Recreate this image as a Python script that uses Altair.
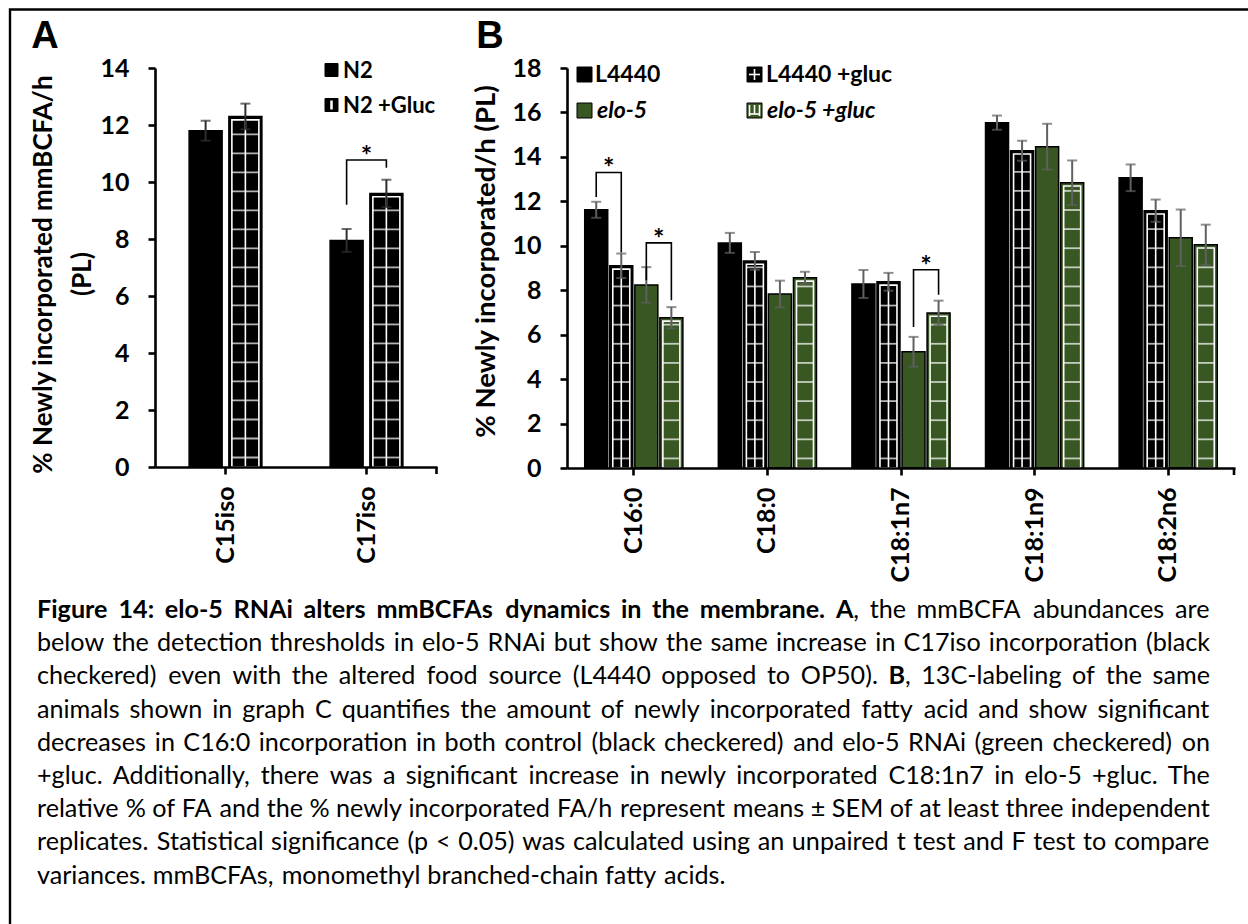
import os
import glob
import struct
import altair as alt
import pandas as pd

W, H = 1248, 924
GREEN = "#385723"
FONT = "Lato"

# ---------------- Panel A data ----------------
cats_a = ["C15iso", "C17iso"]
series_a = ["N2", "N2 +Gluc"]
n2_vals = [11.8, 7.95]
n2_gluc_vals = [12.3, 9.6]
n2_err = [0.35, 0.40]
n2_gluc_err = [0.45, 0.48]
# bracket: category, left series, right series, left-leg bottom, top, right-leg bottom
brackets_a = [("C17iso", "N2", "N2 +Gluc", 9.2, 10.77, 10.5)]

# ---------------- Panel B data ----------------
cats_b = ["C16:0", "C18:0", "C18:1n7", "C18:1n9", "C18:2n6"]
series_b = ["L4440", "L4440 +gluc", "elo-5", "elo-5 +gluc"]
l4440_vals = [11.62, 10.13, 8.28, 15.54, 13.06]
l4440_gluc_vals = [9.10, 9.32, 8.38, 14.28, 11.58]
elo5_vals = [8.24, 7.83, 5.23, 14.46, 10.36]
elo5_gluc_vals = [6.76, 8.56, 6.98, 12.84, 10.05]
l4440_err = [0.36, 0.45, 0.63, 0.32, 0.60]
l4440_gluc_err = [0.55, 0.40, 0.40, 0.45, 0.50]
elo5_err = [0.80, 0.60, 0.67, 1.03, 1.27]
elo5_gluc_err = [0.48, 0.27, 0.55, 1.00, 0.90]
brackets_b = [
    ("C16:0", "L4440", "L4440 +gluc", 12.2, 13.3, 9.7),
    ("C16:0", "elo-5", "elo-5 +gluc", 8.45, 10.13, 7.55),
    ("C18:1n7", "elo-5", "elo-5 +gluc", 6.35, 8.92, 7.8),
]

# caption (** marks bold)
caption_lines = [
    "**Figure 14: elo-5 RNAi alters mmBCFAs dynamics in the membrane. A**, the mmBCFA abundances are",
    "below the detection thresholds in elo-5 RNAi but show the same increase in C17iso incorporation (black",
    "checkered) even with the altered food source (L4440 opposed to OP50). **B**, 13C-labeling of the same",
    "animals shown in graph C quantifies the amount of newly incorporated fatty acid and show significant",
    "decreases in C16:0 incorporation in both control (black checkered) and elo-5 RNAi (green checkered) on",
    "+gluc. Additionally, there was a significant increase in newly incorporated C18:1n7 in elo-5 +gluc. The",
    "relative % of FA and the % newly incorporated FA/h represent means \u00b1 SEM of at least three independent",
    "replicates. Statistical significance (p < 0.05) was calculated using an unpaired t test and F test to compare",
    "variances. mmBCFAs, monomethyl branched-chain fatty acids.",
]


# ---------------- font metrics (for justified caption) ----------------
def find_font(name):
    roots = ["/usr/share/fonts", "/usr/local/share/fonts",
             os.path.expanduser("~/.fonts"), os.path.expanduser("~/.local/share/fonts")]
    for r in roots:
        hits = glob.glob(os.path.join(r, "**", name), recursive=True)
        if hits:
            return hits[0]
    return None


def load_advances(path):
    data = open(path, "rb").read()
    ntab = struct.unpack(">H", data[4:6])[0]
    tabs = {}
    for i in range(ntab):
        tag, _cs, off, ln = struct.unpack(">4sIII", data[12 + 16 * i: 28 + 16 * i])
        tabs[tag.decode("latin1")] = off
    upem = struct.unpack(">H", data[tabs["head"] + 18: tabs["head"] + 20])[0]
    nhm = struct.unpack(">H", data[tabs["hhea"] + 34: tabs["hhea"] + 36])[0]
    hm = tabs["hmtx"]
    adv = [struct.unpack(">H", data[hm + 4 * i: hm + 4 * i + 2])[0] for i in range(nhm)]
    cm = tabs["cmap"]
    nsub = struct.unpack(">H", data[cm + 2: cm + 4])[0]
    cmap = {}
    for i in range(nsub):
        pid, eid, off = struct.unpack(">HHI", data[cm + 4 + 8 * i: cm + 12 + 8 * i])
        st = cm + off
        fmt = struct.unpack(">H", data[st: st + 2])[0]
        if fmt == 4 and pid in (0, 3):
            segx2 = struct.unpack(">H", data[st + 6: st + 8])[0]
            n = segx2 // 2
            ends = struct.unpack(">%dH" % n, data[st + 14: st + 14 + segx2])
            starts = struct.unpack(">%dH" % n, data[st + 16 + segx2: st + 16 + 2 * segx2])
            deltas = struct.unpack(">%dh" % n, data[st + 16 + 2 * segx2: st + 16 + 3 * segx2])
            ro = st + 16 + 3 * segx2
            roffs = struct.unpack(">%dH" % n, data[ro: ro + segx2])
            for s in range(n):
                for c in range(starts[s], min(ends[s], 0x2FFF) + 1):
                    if roffs[s] == 0:
                        g = (c + deltas[s]) & 0xFFFF
                    else:
                        a = ro + 2 * s + roffs[s] + 2 * (c - starts[s])
                        g = struct.unpack(">H", data[a: a + 2])[0]
                        if g:
                            g = (g + deltas[s]) & 0xFFFF
                    cmap[c] = g
            break
    return lambda ch: adv[min(cmap.get(ord(ch), 0), nhm - 1)] / upem


def make_measure():
    fr, fb = find_font("Lato-Regular.ttf"), find_font("Lato-Bold.ttf")
    try:
        wr, wb = load_advances(fr), load_advances(fb)
    except Exception:
        wr = lambda ch: 0.25 if ch == " " else 0.5
        wb = lambda ch: 0.25 if ch == " " else 0.53
    return lambda s, bold: sum((wb if bold else wr)(c) for c in s)


em_width = make_measure()


def parse_words(line):
    words, bold = [], False
    for w in line.split(" "):
        parts = []
        for j, p in enumerate(w.split("**")):
            if j > 0:
                bold = not bold
            if p:
                parts.append((p, bold))
        words.append(parts)
    return words


LEFT, RIGHT = 37, 1210
Y0, DY = 610, 33.2
parsed = [parse_words(l) for l in caption_lines]


def natural_em(words):
    return sum(em_width(p, b) for parts in words for p, b in parts) + \
        (len(words) - 1) * em_width(" ", False)


CS = min(25.5, min((RIGHT - LEFT) / natural_em(w) for w in parsed[:-1]))

cap_rows = []
for li, words in enumerate(parsed):
    y = Y0 + li * DY
    wid = [sum(em_width(p, b) * CS for p, b in parts) for parts in words]
    sp = em_width(" ", False) * CS
    n = len(words) - 1
    justify = li < len(parsed) - 1
    gap = sp + ((RIGHT - LEFT - sum(wid) - n * sp) / n if justify else 0)
    x = LEFT
    for parts, w in zip(words, wid):
        px = x
        for p, b in parts:
            cap_rows.append({"x": px, "y": y, "t": p, "bold": b})
            px += em_width(p, b) * CS
        x += w + gap
cap_df = pd.DataFrame(cap_rows)


def build_df(cats, series, vals, errs, kinds):
    rows = []
    for s, vl, el, kind in zip(series, vals, errs, kinds):
        for c, v, e in zip(cats, vl, el):
            rows.append({"cat": c, "series": s, "v": v, "e": e,
                         "lo": v - e, "hi": v + e, "z": 0.0, "kind": kind})
    return pd.DataFrame(rows)


def panel(df, cats, series, colors, ymax, yvals, xrange, yrange, pin, pout,
          bar_w, inner_w, lvl_step, inset, brackets, star_dx, err_color,
          ytitle, title_size, title_x, title_y, yaxis_x, xaxis_y):
    def xscale():
        return alt.Scale(type="band", domain=cats, range=xrange,
                         paddingInner=pin, paddingOuter=pout)

    def yscale():
        return alt.Scale(domain=[0, ymax], range=yrange, nice=False, zero=True)

    def XO():
        return alt.XOffset("series:N", sort=series,
                           scale=alt.Scale(type="band", domain=series,
                                           paddingInner=0, paddingOuter=0))

    xaxis = alt.Axis(orient="bottom", offset=-(H - xaxis_y), title=None, labelAngle=-90,
                     labelFont=FONT, labelFontWeight=700, labelFontSize=25,
                     labelColor="black", labelPadding=12, domainColor="black",
                     domainWidth=2.6, tickColor="black", tickWidth=2.6, tickSize=7,
                     grid=False, zindex=2)
    yaxis = alt.Axis(orient="left", offset=-yaxis_x, values=yvals, grid=False,
                     labelFont=FONT, labelFontWeight=700, labelFontSize=25,
                     labelColor="black", labelPadding=19, domainColor="black",
                     domainWidth=2.6, tickColor="black", tickWidth=2.6, tickSize=7,
                     title=ytitle, titleFont=FONT, titleFontWeight=700,
                     titleFontSize=title_size, titleColor="black", titleX=title_x,
                     titleY=title_y, titleAlign="center", titleBaseline="middle",
                     titleAngle=270, zindex=2)

    def X(axis=None):
        return alt.X("cat:N", sort=cats, scale=xscale(), axis=axis)

    def Y(field, axis=None):
        return alt.Y(field, scale=yscale(), axis=axis)

    base = alt.Chart(df)
    out = []
    out.append(base.mark_bar(size=bar_w, stroke="black", strokeWidth=1.5).encode(
        x=X(), xOffset=XO(), y=Y("v:Q"),
        fill=alt.Fill("series:N", scale=alt.Scale(domain=series, range=colors), legend=None),
    ))

    hat = df[df["kind"] != "solid"].copy()
    hat["vin"] = hat["v"] - inset
    out.append(alt.Chart(hat).mark_bar(size=inner_w, fill="white", fillOpacity=0,
                                       stroke="white", strokeWidth=1.6).encode(
        x=X(), xOffset=XO(), y=Y("vin:Q"), y2="z:Q"))
    out.append(alt.Chart(hat[hat["kind"] == "grid"]).mark_rule(
        color="white", strokeWidth=1.6).encode(x=X(), xOffset=XO(), y=Y("vin:Q"), y2="z:Q"))

    lv_rows = []
    for _, r in hat.iterrows():
        k = 0
        while (k + 0.5) * lvl_step < r["v"] - 1.6 * inset:
            lv_rows.append({"cat": r["cat"], "series": r["series"], "lvl": (k + 0.5) * lvl_step})
            k += 1
    out.append(alt.Chart(pd.DataFrame(lv_rows)).mark_tick(
        orient="horizontal", size=inner_w, thickness=1.8, color="white").encode(
        x=X(), xOffset=XO(), y=Y("lvl:Q")))

    out.append(base.mark_rule(color=err_color, strokeWidth=2).encode(
        x=X(), xOffset=XO(), y=Y("lo:Q"), y2="hi:Q"))
    for fld in ["lo:Q", "hi:Q"]:
        out.append(base.mark_tick(orient="horizontal", size=10, thickness=2,
                                  color=err_color).encode(x=X(), xOffset=XO(), y=Y(fld)))

    br_rows, st_rows = [], []
    for i, (c, s1, s2, b1, top, b2) in enumerate(brackets):
        for o, (s, yv) in enumerate([(s1, b1), (s1, top), (s2, top), (s2, b2)]):
            br_rows.append({"b": i, "o": o, "cat": c, "series": s, "y": yv})
        st_rows.append({"cat": c, "series": s1, "y": top})
    out.append(alt.Chart(pd.DataFrame(br_rows)).mark_line(color="black", strokeWidth=1.6).encode(
        x=X(), xOffset=XO(), y=Y("y:Q"), detail="b:N", order="o:Q"))
    out.append(alt.Chart(pd.DataFrame(st_rows)).mark_text(
        text="*", dx=star_dx, dy=5, baseline="alphabetic", font=FONT, fontSize=27,
        fontWeight="bold", color="black").encode(x=X(), xOffset=XO(), y=Y("y:Q")))

    # axes carried by an invisible layer
    out.append(base.mark_bar(opacity=0).encode(x=X(xaxis), y=Y("z:Q", yaxis)))
    return out


df_a = build_df(cats_a, series_a, [n2_vals, n2_gluc_vals], [n2_err, n2_gluc_err],
                ["solid", "grid"])
df_b = build_df(cats_b, series_b,
                [l4440_vals, l4440_gluc_vals, elo5_vals, elo5_gluc_vals],
                [l4440_err, l4440_gluc_err, elo5_err, elo5_gluc_err],
                ["solid", "grid", "solid", "stripe"])

layers_a = panel(df_a, cats_a, series_a, ["black", "black"], 14, list(range(0, 15, 2)),
                 [155, 437], [467, 68], 0.436, 0.218, 33, 27, 0.667, 0.12,
                 brackets_a, 19.75, "#2e2e2e",
                 "% Newly incorporated mmBCFA/h", 26, -112, 274, 155, 467)
layers_b = panel(df_b, cats_b, series_b, ["black", "black", GREEN, GREEN], 18,
                 list(range(0, 19, 2)), [567, 1235], [468, 68], 0.25, 0.125, 23, 17,
                 0.86, 0.15, brackets_b, 12.5, "#606060",
                 "% Newly incorporated/h (PL)", 27.5, -81, 261, 567, 468)

# ---------------- annotations ----------------
one = pd.DataFrame({"k": [0]})


def txt(s, x, y, size, weight="normal", align="left", style="normal", font=FONT,
        baseline="middle", angle=0):
    return alt.Chart(one).mark_text(
        text=s, align=align, baseline=baseline, font=font, fontSize=size,
        fontWeight=weight, fontStyle=style, color="black", angle=angle).encode(
        x=alt.value(x), y=alt.value(y))


def box(x1, y1, x2, y2, fill, stroke="black", sw=1.0):
    return alt.Chart(one).mark_rect(fill=fill, stroke=stroke, strokeWidth=sw).encode(
        x=alt.value(x1), x2=alt.value(x2), y=alt.value(y1), y2=alt.value(y2))


def seg(x1, y1, x2, y2, color="white", sw=1.6):
    return alt.Chart(one).mark_rule(color=color, strokeWidth=sw).encode(
        x=alt.value(x1), x2=alt.value(x2), y=alt.value(y1), y2=alt.value(y2))


ann = []
ann.append(alt.Chart(one).mark_rect(fill="white", fillOpacity=0, stroke="black",
                                    strokeWidth=2.4).encode(
    x=alt.value(10), x2=alt.value(1300), y=alt.value(9.5), y2=alt.value(1000)))
ann.append(txt("A", 45, 48, 38, "bold", "center", font="Liberation Sans", baseline="alphabetic"))
ann.append(txt("B", 490, 48, 38, "bold", "center", font="Liberation Sans", baseline="alphabetic"))
# second line of panel A's y-axis title
ann.append(txt("(PL)", 83, 274, 26, "bold", "center", angle=270))

# end ticks of the category axes
ann.append(seg(436.5, 467, 436.5, 474, color="black", sw=2.6))
ann.append(seg(1234, 468, 1234, 475, color="black", sw=2.6))

# legend A
ann.append(box(325, 63.5, 338, 76.5, "black"))
ann.append(txt("N2", 343, 70.5, 22, "bold"))
ann.append(box(325, 98.5, 338, 111.5, "black"))
ann.append(seg(331.5, 100.5, 331.5, 109.5, sw=2.5))
ann.append(txt("N2 +Gluc", 343, 105.5, 22, "bold"))

# legend B
ann.append(box(577, 67, 592, 82, "black"))
ann.append(txt("L4440", 595, 75, 23, "bold"))
ann.append(box(577, 103, 592, 118, GREEN))
ann.append(txt("elo-5", 597, 110.5, 23, "bold", style="italic"))
ann.append(box(747, 67, 762, 82, "black"))
ann.append(seg(754.5, 69, 754.5, 80))
ann.append(seg(749, 74.5, 760, 74.5))
ann.append(txt("L4440 +gluc", 766, 75, 23, "bold"))
ann.append(box(747, 103, 762, 118, GREEN))
ann.append(seg(749.5, 114, 759.5, 114))
ann.append(seg(754.5, 105, 754.5, 114))
ann.append(seg(749.5, 105, 749.5, 116))
ann.append(seg(759.5, 105, 759.5, 116))
ann.append(txt("elo-5 +gluc", 767, 110.5, 23, "bold", style="italic"))

# caption words (justified)
for is_bold in (False, True):
    sub = cap_df[cap_df["bold"] == is_bold]
    ann.append(alt.Chart(sub).mark_text(
        align="left", baseline="middle", font=FONT, fontSize=CS,
        fontWeight="bold" if is_bold else "normal", color="black").encode(
        x=alt.X("x:Q", scale=None), y=alt.Y("y:Q", scale=None), text="t:N"))

chart = alt.layer(*layers_a, *layers_b, *ann).resolve_scale(
    x="independent", y="independent", xOffset="independent", fill="independent"
).properties(
    width=W, height=H, autosize=alt.AutoSizeParams(type="none"), padding=0,
    background="white",
).configure_view(strokeWidth=0).configure_axis(
    labelFontWeight=700, titleFontWeight=700, labelFont=FONT, titleFont=FONT
)

chart.save("out.html", embed_options={"renderer": "svg", "actions": False})
